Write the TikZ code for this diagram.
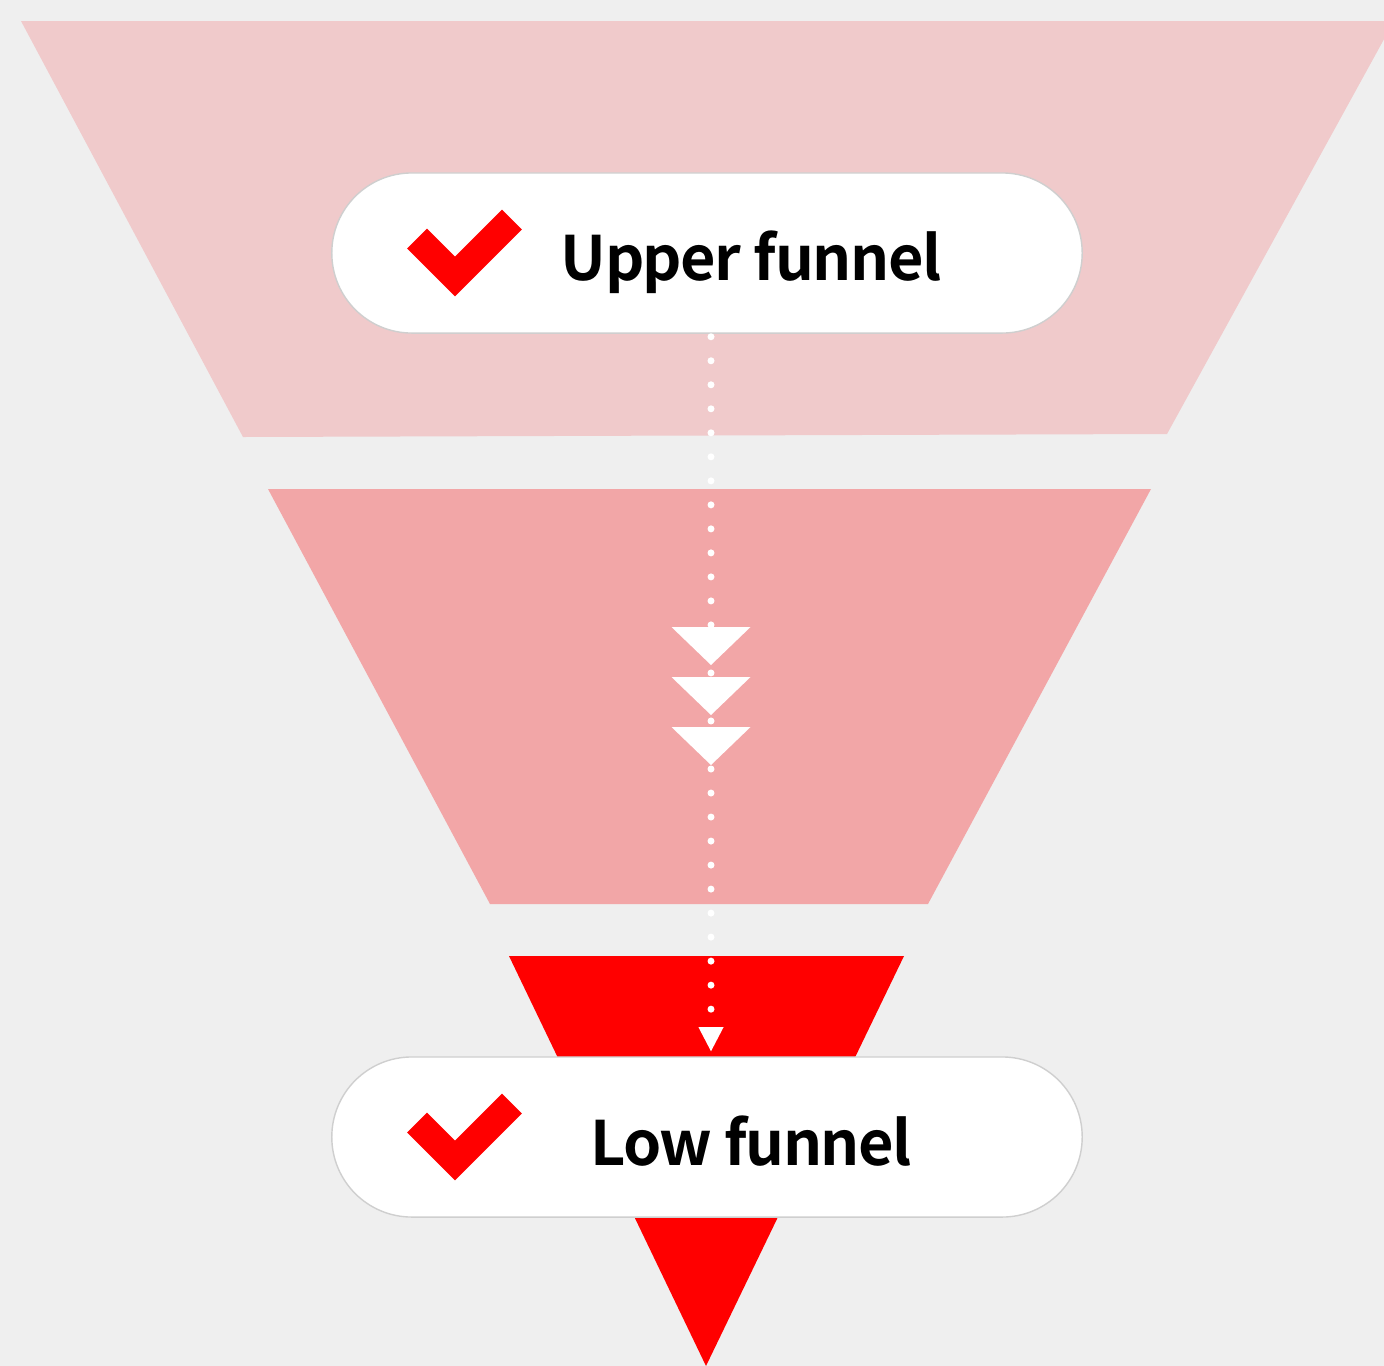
\documentclass[tikz,border=0pt]{standalone}
\usepackage{fontspec}
\usepackage{tikz}
\usetikzlibrary{arrows.meta,positioning}
\newfontfamily\pillfont{Noto Sans CJK KR Bold}[LetterSpace=-2.5]
\definecolor{bggray}{HTML}{EFEFEF}
\definecolor{funneltop}{HTML}{F0CACB}
\definecolor{funnelmid}{HTML}{F2A6A7}
\definecolor{funnelred}{HTML}{FF0000}
\definecolor{pillgray}{HTML}{CFCFCF}

\begin{document}
\begin{tikzpicture}
          [x=0.01cm, y=-0.01cm,
           pill/.style={draw=pillgray,line width=0.4pt,fill=white,rounded corners=0.8cm,
                        minimum width=7.5cm,minimum height=1.6cm},
           tick/.style={draw=funnelred,line width=0.28cm,line join=miter},
           pilltext/.style={font=\pillfont\fontsize{17.4pt}{21pt}\selectfont,inner sep=0pt,anchor=base},
           flow/.style={white,line width=0.07cm,line cap=round,
                        dash pattern=on 0pt off 0.24cm,dash phase=0.21cm},
           >={Triangle[width=0.25cm,length=0.24cm,line width=0pt]}
          ]
          \useasboundingbox (0,0) rectangle (1384,1366);
          \clip (0,0) rectangle (1384,1366);
          \fill[bggray] (0,0) rectangle (1384,1366);
          % funnel sections
          \fill[funneltop] (21,21) -- (1394,21) -- (1167,434) -- (243,437) -- cycle;
          \fill[funnelmid] (268,489) -- (1151,489) -- (928,904) -- (490,904) -- cycle;
          \fill[funnelred] (509,956) -- (904,956) -- (706,1366) -- cycle;
          % stages
          \node[pill] (upper) at (707,253) {};
          \node[pill] (low) at (707,1137) {};
          \draw[tick] ([shift={(-290,-14.5)}]upper.center) -- ++(38,38) -- ++(57,-57);
          \draw[tick] ([shift={(-290,-14.5)}]low.center) -- ++(38,38) -- ++(57,-57);
          \node[pilltext] (uppertext) at ([xshift=0.44cm,yshift=-0.27cm]upper.center) {Upper funnel};
          \node[pilltext] (lowtext) at ([xshift=0.44cm,yshift=-0.28cm]low.center) {Low funnel};
          % flow down the funnel
          \draw[flow,->] ([xshift=0.04cm]upper.south) -- ([xshift=0.04cm,yshift=0.05cm]low.north);
          \foreach \y in {627,677,727}
            \fill[white] (671.5,\y) -- (750.5,\y) -- (711,\y+38) -- cycle;
        \end{tikzpicture}
\end{document}
